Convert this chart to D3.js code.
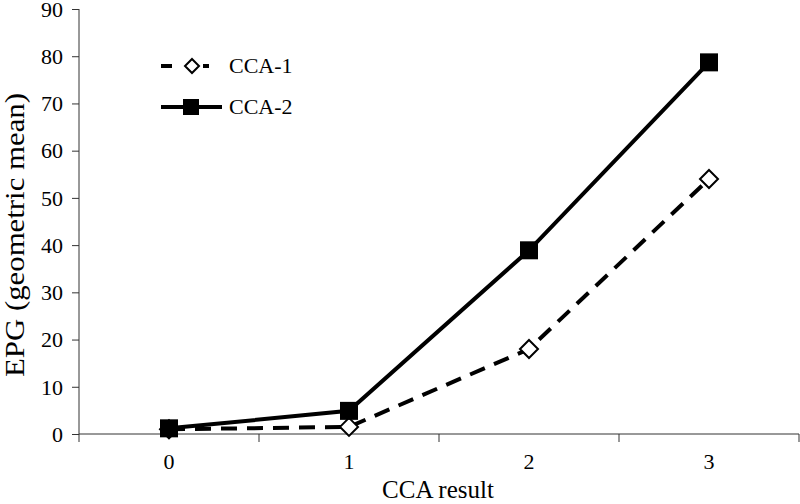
<!DOCTYPE html>
<html><head><meta charset="utf-8">
<script src="https://cdn.jsdelivr.net/npm/d3@7"></script>
<style>body{margin:0;background:#fff}svg{display:block}</style>
</head><body>
<script>
const categories = ["0","1","2","3"];
const cca1 = [1.0, 1.5, 18.0, 54.0];
const cca2 = [1.2, 4.9, 38.9, 78.7];
const yTicks = [0,10,20,30,40,50,60,70,80,90];
const seriesNames = ["CCA-1","CCA-2"];

const FONT="Liberation Serif";
const W=800,H=504;
const m={left:79,right:1,top:9,bottom:70};
const svg=d3.select("body").append("svg").attr("width",W).attr("height",H);
const x=d3.scaleBand().domain(categories).range([m.left,W-m.right]).padding(0);
const y=d3.scaleLinear().domain([0,90]).range([H-m.bottom,m.top]);

// y axis
const ya=svg.append("g").attr("transform",`translate(${m.left},0)`)
  .call(d3.axisLeft(y).tickValues(yTicks).tickSize(7).tickPadding(9));
ya.attr("font-family",FONT).attr("font-size",22);
ya.selectAll("text").attr("dy","0.33em").attr("fill","#000");
ya.selectAll("line,path").attr("stroke","#333");
ya.select(".domain").attr("d",`M0,${y(0)}V${y(90)}`);

// x axis with ticks at band boundaries
const xa=svg.append("g").attr("transform",`translate(0,${y(0)})`);
xa.append("line").attr("x1",m.left).attr("x2",W-m.right).attr("stroke","#333");
const bounds=categories.map(c=>x(c)).concat([x(categories[categories.length-1])+x.bandwidth()]);
xa.selectAll("line.t").data(bounds).join("line").attr("class","t")
  .attr("x1",d=>d).attr("x2",d=>d).attr("y1",0).attr("y2",8).attr("stroke","#333");
xa.selectAll("text").data(categories).join("text")
  .attr("x",d=>x(d)+x.bandwidth()/2).attr("y",35).attr("text-anchor","middle")
  .attr("font-family",FONT).attr("font-size",22).text(d=>d);

// titles
svg.append("text").attr("x",438).attr("y",498).attr("text-anchor","middle")
  .attr("font-family",FONT).attr("font-size",25).text("CCA result");
svg.append("text").attr("transform",`translate(24,235) rotate(-90)`)
  .attr("text-anchor","middle").attr("font-family",FONT).attr("font-size",27)
  .attr("textLength",284).attr("lengthAdjust","spacingAndGlyphs")
  .text("EPG (geometric mean)");

const cx=d=>x(d)+x.bandwidth()/2;
const line=d3.line().x((d,i)=>cx(categories[i])).y(d=>y(d));

// CCA-1 dashed
svg.append("path").datum(cca1).attr("d",line).attr("fill","none").attr("stroke","#000")
  .attr("stroke-width",4).attr("stroke-dasharray","16,10");
// CCA-2 solid
svg.append("path").datum(cca2).attr("d",line).attr("fill","none").attr("stroke","#000")
  .attr("stroke-width",4);

const diamond=(g,cxv,cyv,r)=>g.append("path")
  .attr("d",`M${cxv},${cyv-r}L${cxv+r},${cyv}L${cxv},${cyv+r}L${cxv-r},${cyv}Z`)
  .attr("fill","#fff").attr("stroke","#000").attr("stroke-width",2);
cca1.forEach((v,i)=>diamond(svg,cx(categories[i]),y(v),9));
svg.selectAll("rect.s").data(cca2).join("rect").attr("class","s")
  .attr("x",(d,i)=>cx(categories[i])-9).attr("y",d=>y(d)-9).attr("width",18).attr("height",18)
  .attr("fill","#000");

// legend
const lg=svg.append("g");
lg.append("line").attr("x1",161).attr("x2",209).attr("y1",66).attr("y2",66)
  .attr("stroke","#000").attr("stroke-width",4).attr("stroke-dasharray","11,10");
lg.append("rect").attr("x",182).attr("y",58).attr("width",18).attr("height",16).attr("fill","#fff");
diamond(lg,192,66,7);
lg.append("line").attr("x1",161).attr("x2",222).attr("y1",107).attr("y2",107)
  .attr("stroke","#000").attr("stroke-width",4);
lg.append("rect").attr("x",183).attr("y",99).attr("width",16).attr("height",16).attr("fill","#000");
lg.selectAll("text.l").data(seriesNames).join("text").attr("class","l")
  .attr("x",229).attr("y",(d,i)=>66+i*41+7).attr("font-family",FONT).attr("font-size",22).text(d=>d);
</script>
</body></html>
